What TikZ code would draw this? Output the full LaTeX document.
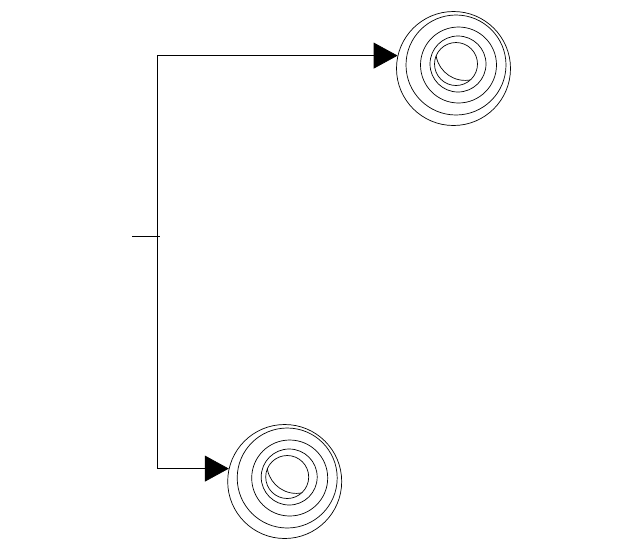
\documentclass[tikz,border=0pt]{standalone}
\usepackage{tikz}
\usetikzlibrary{positioning}
\usetikzlibrary{calc}
\usetikzlibrary{arrows.meta}
\tikzset{
    % Big filled arrow head for the two branches
    >={Triangle[length=24pt, width=26pt]},
%
    % Outer ring of each target
    target ring/.style={
        draw, circle, inner sep=0, minimum size=114pt},
%
    % Thin connector lines
    branch line/.style={draw, line width=0.8pt}}

\begin{document}
\begin{tikzpicture}[x=1pt, y=-1pt, line width=0.7pt]

% Page area

\useasboundingbox (0,0) rectangle (640,550);

\node [target ring] (top) at (453.5,68.5) {};
\node [target ring] (bottom) at (284.7,481.5) {};

\coordinate (split) at (157,236);
\coordinate (entry) at (132,236);

% Rings inside both targets
\foreach \n in {top,bottom} {
    \draw ([shift={(2.5,-3.5)}]\n.center) circle (50);
    \draw ([shift={(5,-3.5)}]\n.center) circle (38);
    \draw ([shift={(4.5,-4.5)}]\n.center) circle (28);
    \draw ([shift={(2.5,-4.5)}]\n.center) circle (21.5);
    \begin{scope}
        \clip ([shift={(2.5,-4.5)}]\n.center) circle (21.5);
        \draw ([shift={(11.7,-17.6)}]\n.center) circle (29.5);
    \end{scope}
}

\path [branch line] (entry) -- ($(split)+(3,0)$);
\path [branch line, ->] (split) |- (top.167);
\path [branch line, ->] (split) |- (bottom.167);

\end{tikzpicture}
\end{document}
